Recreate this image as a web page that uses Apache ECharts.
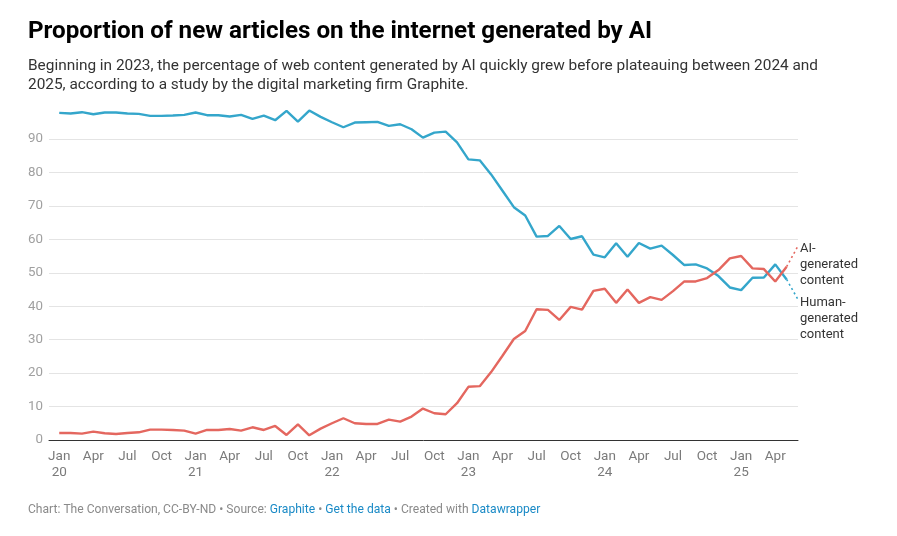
<!DOCTYPE html>
<html>
<head>
<meta charset="utf-8">
<script src="https://cdn.jsdelivr.net/npm/echarts@6/dist/echarts.min.js"></script>
<style>
html,body{margin:0;padding:0;background:#fff;}
#chart{width:897px;height:536px;}
</style>
</head>
<body>
<div id="chart"></div>
<script>
// Monthly index: 0 = Jan 2020 ... 65 = Jun 2025
const tickLabels = ["Jan\n20","Apr","Jul","Oct","Jan\n21","Apr","Jul","Oct","Jan\n22","Apr","Jul","Oct","Jan\n23","Apr","Jul","Oct","Jan\n24","Apr","Jul","Oct","Jan\n25","Apr"];
const tickMonths = [0,3,6,9,12,15,18,21,24,27,30,33,36,39,42,45,48,51,54,57,60,63];

const humanShare = [97.8,97.6,98.0,97.4,97.9,97.9,97.6,97.5,96.9,96.9,97.0,97.2,
  97.9,97.1,97.1,96.7,97.2,96.0,97.0,95.6,98.4,95.2,98.5,96.6,
  95.0,93.5,94.9,95.0,95.1,93.9,94.4,92.9,90.4,91.9,92.2,89.0,
  83.9,83.6,79.4,74.5,69.6,67.1,60.8,61.0,64.0,60.1,60.9,55.4,
  54.6,58.8,54.8,58.9,57.2,58.1,55.3,52.3,52.5,51.3,49.0,45.6,
  44.8,48.5,48.6,52.5,48.0,42.0];
const aiShare = [2.1,2.1,1.9,2.5,2.0,1.8,2.1,2.3,3.1,3.1,3.0,2.8,
  1.9,3.0,3.0,3.3,2.8,3.8,3.0,4.2,1.5,4.7,1.4,3.4,
  5.0,6.5,5.0,4.8,4.8,6.1,5.5,7.0,9.4,8.0,7.7,11.0,
  15.9,16.1,20.3,25.2,30.2,32.6,39.1,38.9,35.9,39.8,39.0,44.6,
  45.2,41.0,45.0,41.0,42.7,41.9,44.5,47.4,47.4,48.4,50.8,54.3,
  55.0,51.3,51.1,47.4,51.8,58.0];
const lastObserved = 64; // segment after this is dotted (projection)

const BLUE = '#34a6cb';
const RED = '#e4675f';

function solid(arr){ return arr.slice(0,lastObserved+1).map((v,i)=>[i,v]); }
function dotted(arr){ return arr.slice(lastObserved).map((v,i)=>[i+lastObserved,v]); }

const chart = echarts.init(document.getElementById('chart'), null, {renderer:'canvas'});
const FONT = 'Roboto, "Noto Sans", sans-serif';

chart.setOption({
  animation:false,
  backgroundColor:'#fff',
  textStyle:{fontFamily:FONT},
  title:[
    {text:'Proportion of new articles on the internet generated by AI', left:28, top:20, padding:0,
     textStyle:{fontFamily:FONT,fontSize:24.2,fontWeight:'bold',color:'#000'}},
    {text:'Beginning in 2023, the percentage of web content generated by AI quickly grew before plateauing between 2024 and\n2025, according to a study by the digital marketing firm Graphite.',
     left:28, top:56, padding:0, textStyle:{fontFamily:FONT,fontSize:15.4,fontWeight:'normal',color:'#333',lineHeight:19.5}},
    {text:'Chart: The Conversation, CC-BY-ND \u2022 Source: {l|Graphite} \u2022 {l|Get the data} \u2022 Created with {l|Datawrapper}',
     left:28, top:504, padding:0, textStyle:{fontFamily:FONT,fontSize:12.1,fontWeight:'normal',color:'#8a8a8a',
       rich:{l:{fontFamily:FONT,fontSize:12.1,color:'#1a8ac6'}}}}
  ],
  grid:{left:49,right:99,top:105.5,bottom:96,containLabel:false},
  xAxis:{
    type:'value', min:-0.9, max:65,
    axisLine:{show:true,onZero:false,lineStyle:{color:'#333',width:1}},
    axisTick:{show:false},
    splitLine:{show:false},
    axisLabel:{
      customValues:tickMonths,
      formatter:function(v){ const k = tickMonths.indexOf(v); return k>=0?tickLabels[k]:''; },
      color:'#7a7a7a', fontSize:13.5, fontFamily:FONT, lineHeight:16.5, margin:8
    }
  },
  yAxis:{
    type:'value', min:0, max:100, interval:10,
    axisLine:{show:false}, axisTick:{show:false},
    axisLabel:{color:'#a0a0a0',fontSize:13.3,fontFamily:FONT,margin:6,showMaxLabel:false},
    splitLine:{show:true,showMaxLine:false,showMinLine:false,lineStyle:{color:'#e4e4e4',width:1}}
  },
  series:[
    {type:'line', name:'Human', data:solid(humanShare), showSymbol:false, symbol:'none',
     lineStyle:{color:BLUE,width:2.4}, z:3},
    {type:'line', name:'AI', data:solid(aiShare), showSymbol:false, symbol:'none',
     lineStyle:{color:RED,width:2.4}, z:4},
    {type:'line', name:'Human proj', data:dotted(humanShare), showSymbol:false, symbol:'none',
     lineStyle:{color:BLUE,width:1.6,type:[2,3]}, z:3,
     endLabel:{show:true, formatter:'Human-\ngenerated\ncontent', color:'#333', fontSize:13,
       fontFamily:FONT, lineHeight:16, align:'left', verticalAlign:'middle', distance:2, offset:[0,19]}},
    {type:'line', name:'AI proj', data:dotted(aiShare), showSymbol:false, symbol:'none',
     lineStyle:{color:RED,width:1.6,type:[2,3]}, z:4,
     endLabel:{show:true, formatter:'AI-\ngenerated\ncontent', color:'#333', fontSize:13,
       fontFamily:FONT, lineHeight:16, align:'left', verticalAlign:'middle', distance:2, offset:[0,19]}}
  ]
});
</script>
</body>
</html>
